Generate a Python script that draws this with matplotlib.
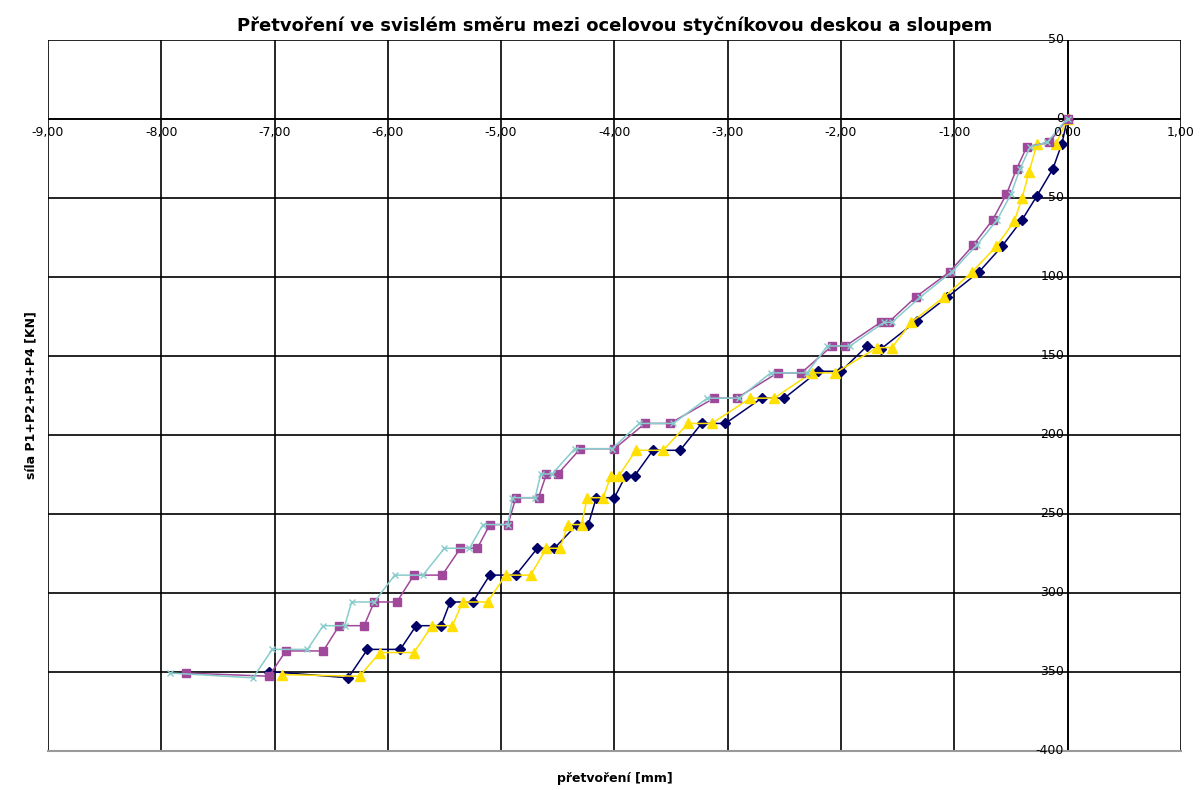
import matplotlib
matplotlib.use("Agg")
import matplotlib.pyplot as plt

# series 1 (navy diamonds)
s1_x = [0, -0.05, -0.13, -0.27, -0.40, -0.58, -0.78, -1.06, -1.33, -1.65, -1.77,
        -2.0, -2.2, -2.5, -2.7, -3.02, -3.23, -3.42, -3.66, -3.82, -3.9, -4.0, -4.16,
        -4.23, -4.33, -4.53, -4.68, -4.87, -5.1, -5.25, -5.45, -5.53, -5.75, -5.89, -6.18,
        -6.35, -7.05]
s1_y = [0, 16, 32, 49, 64, 81, 97, 113, 128, 146, 144,
        160, 160, 177, 177, 193, 193, 210, 210, 226, 226, 240, 240,
        257, 257, 272, 272, 289, 289, 306, 306, 321, 321, 336, 336,
        354, 350]
# series 2 (magenta squares)
s2_x = [0, -0.16, -0.36, -0.45, -0.54, -0.66, -0.83, -1.04, -1.34, -1.58, -1.65,
        -1.96, -2.08, -2.35, -2.56, -2.92, -3.12, -3.51, -3.73, -4.0, -4.3, -4.5, -4.6,
        -4.67, -4.87, -4.94, -5.1, -5.21, -5.36, -5.52, -5.77, -5.92, -6.12, -6.21, -6.43,
        -6.57, -6.9, -7.05, -7.78]
s2_y = [0, 15, 18, 32, 48, 64, 80, 97, 113, 129, 129,
        144, 144, 161, 161, 177, 177, 193, 193, 209, 209, 225, 225,
        240, 240, 257, 257, 272, 272, 289, 289, 306, 306, 321, 321,
        337, 337, 353, 351]
# series 3 (yellow triangles)
s3_x = [0, -0.10, -0.27, -0.34, -0.40, -0.47, -0.63, -0.84, -1.09, -1.38, -1.55, -1.68,
        -2.05, -2.26, -2.59, -2.8, -3.14, -3.35, -3.57, -3.81, -3.96, -4.03, -4.1, -4.24,
        -4.29, -4.41, -4.48, -4.6, -4.74, -4.96, -5.12, -5.34, -5.43, -5.61, -5.77, -6.07,
        -6.25, -6.93]
s3_y = [0, 16, 16, 34, 50, 65, 81, 97, 113, 129, 145, 145,
        161, 161, 177, 177, 193, 193, 210, 210, 226, 226, 240, 240,
        257, 257, 272, 272, 289, 289, 306, 306, 321, 321, 338, 338,
        353, 352]
# series 4 (cyan crosses)
s4_x = [0, -0.18, -0.33, -0.42, -0.50, -0.62, -0.80, -1.02, -1.30, -1.55, -1.62,
        -1.92, -2.12, -2.30, -2.62, -2.90, -3.18, -3.48, -3.78, -4.02, -4.35, -4.55, -4.65,
        -4.70, -4.90, -4.94, -5.16, -5.28, -5.5, -5.69, -5.94, -6.12, -6.32, -6.38, -6.57,
        -6.71, -7.02, -7.19, -7.92]
s4_y = [0, 15, 18, 32, 48, 64, 80, 97, 113, 129, 129,
        144, 144, 161, 161, 177, 177, 193, 193, 209, 209, 225, 225,
        240, 240, 257, 257, 272, 272, 289, 289, 306, 306, 321, 321,
        336, 336, 354, 351]

xticks = [-9, -8, -7, -6, -5, -4, -3, -2, -1, 0, 1]
yticks = [-50, 0, 50, 100, 150, 200, 250, 300, 350, 400]
ylabels = ["50", "0", "50", "100", "150", "200", "250", "300", "350", "-400"]

fig = plt.figure(figsize=(12, 7.9), dpi=100)
ax = fig.add_axes([0.04, 0.05, 0.944, 0.9])
ax.set_xlim(-9, 1)
ax.set_ylim(400, -50)
ax.set_xticks(xticks)
ax.set_yticks(yticks)
ax.grid(True, color='black', linewidth=1.2)
ax.set_axisbelow(True)
for s in ['top', 'right', 'left', 'bottom']:
    ax.spines[s].set_visible(False)
ax.axhline(0, color='black', lw=1.2)
ax.axvline(0, color='black', lw=1.2)
ax.plot([-9, 1], [400, 400], color='#999999', lw=1.5, clip_on=False)

ax.plot(s1_x, s1_y, color='#000066', marker='D', ms=5, lw=1.1)
ax.plot(s3_x, s3_y, color='#FFE000', marker='^', ms=7, lw=1.1)
ax.plot(s2_x, s2_y, color='#A0489A', marker='s', ms=6, lw=1.1)
ax.plot(s4_x, s4_y, color='#88CCCC', marker='x', ms=5, lw=1.1)

ax.tick_params(length=0)
ax.set_xticklabels([])
ax.set_yticklabels([])
for v in xticks:
    ax.text(v, 5, f"{v:.2f}".replace('.', ','), ha='center', va='top', fontsize=9)
for v, l in zip(yticks, ylabels):
    ax.text(-0.03, v, l, ha='right', va='center', fontsize=9)

ax.set_title("Přetvoření ve svislém směru mezi ocelovou styčníkovou deskou a sloupem",
             fontsize=13, fontweight='bold', pad=6)
ax.set_xlabel("přetvoření [mm]", fontsize=9, fontweight='bold', labelpad=12)
ax.set_ylabel("síla P1+P2+P3+P4 [KN]", fontsize=9, fontweight='bold')
fig.savefig("out.png")
